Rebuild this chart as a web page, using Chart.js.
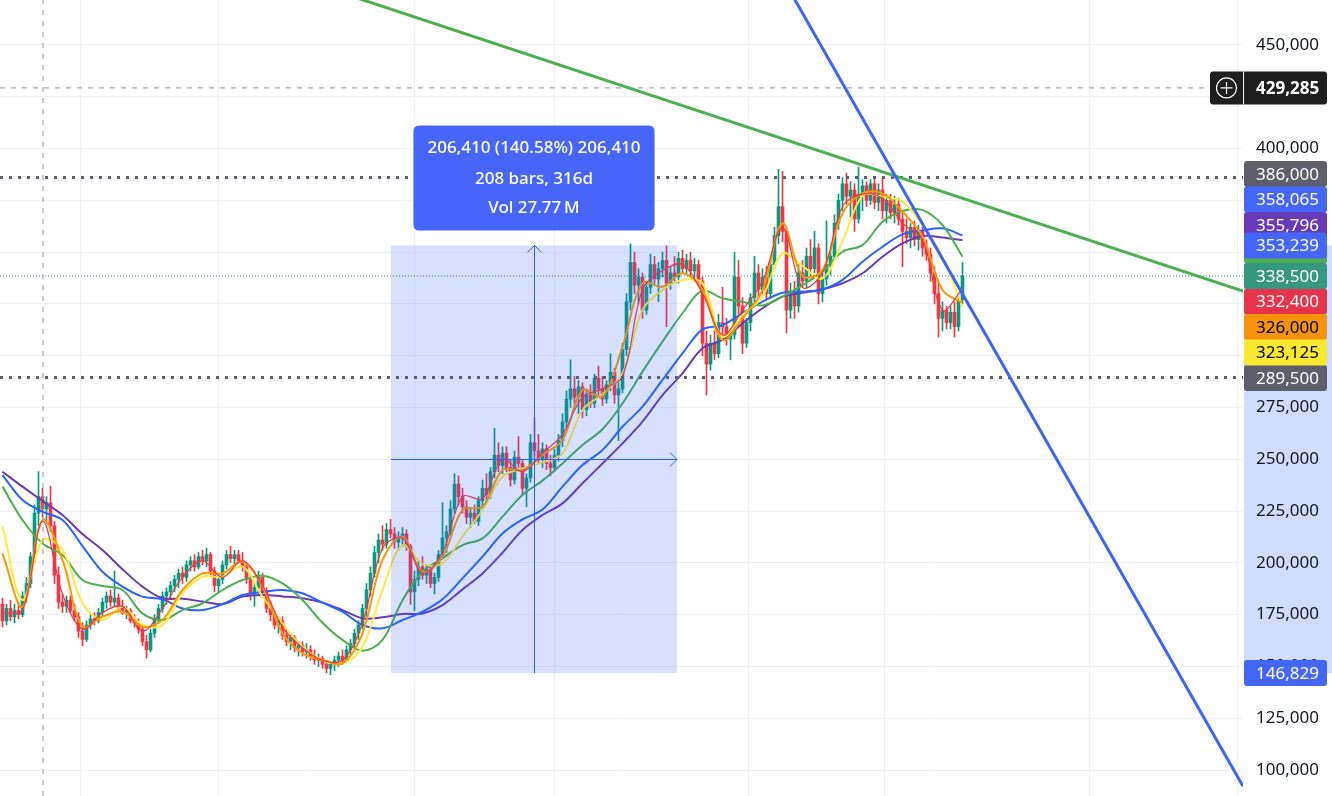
<!DOCTYPE html>
<html>
<head>
<meta charset="utf-8">
<title>Chart</title>
<script src="https://cdn.jsdelivr.net/npm/chart.js@4.4.1/dist/chart.umd.min.js"></script>
<style>
html,body{margin:0;padding:0;background:#ffffff;overflow:hidden;}
canvas{display:block;}
</style>
</head>
<body>
<canvas id="chart" width="1332" height="796" style="width:1332px;height:796px"></canvas>
<script>
// ---------------- DATA (prices in thousands) ----------------
const open = [
180,172,178,174,177,175,184,190,203,224,
232,226,229,218,194,181,179,182,177,174,
167,163,170,173,172,176,181,184,181,183,
179,176,177,172,171,168,162,158,166,173,
178,184,186,189,192,195,193,199,201,198,
203,201,204,196,189,192,199,204,202,204,
201,198,192,185,188,193,186,178,175,170,
172,165,162,164,159,160,157,158,155,153,
154,151,149,151,153,155,153,158,161,166,
170,178,187,195,205,211,209,216,214,210,
212,214,208,186,192,198,194,197,190,193,
204,212,215,226,238,232,227,222,224,220,
230,236,233,244,252,247,253,246,240,251,
248,236,241,258,254,250,255,248,246,252,
259,268,279,284,280,285,274,281,277,289,
284,279,286,292,281,284,303,326,345,334,
338,322,333,344,337,342,346,335,340,338,
347,342,346,341,344,336,306,296,306,301,
316,314,308,310,338,324,306,316,328,340,
332,338,330,344,358,372,360,322,331,324,
340,336,348,342,352,330,337,344,348,364,
375,383,377,380,366,378,382,375,383,374,
380,370,375,369,373,366,360,357,362,356,
360,352,349,340,330,318,322,316,321,314,
327];
const high = [
183,180,182,180,181,186,193,205,228,244,
236,232,237,220,198,185,184,184,180,176,
171,172,175,176,178,183,186,187,196,185,
182,179,178,175,173,170,165,168,175,180,
186,188,191,194,197,198,201,203,204,205,
206,207,205,198,194,201,206,208,206,206,
205,200,194,190,196,195,188,181,177,174,
174,168,166,165,162,162,161,160,158,156,
155,153,152,155,157,158,160,163,168,172,
180,190,198,208,214,218,219,221,217,215,
217,216,209,196,201,203,199,198,195,206,
229,218,230,243,242,236,230,226,228,232,
240,243,246,265,258,256,256,250,254,261,
250,243,262,270,262,258,257,252,255,262,
272,283,298,290,288,287,284,286,291,295,
290,288,301,294,287,306,330,354,350,342,
340,336,349,348,345,350,353,343,348,350,
351,349,350,347,346,338,312,310,312,320,
333,318,312,350,346,328,318,330,348,344,
342,343,346,362,390,389,362,335,336,344,
346,352,356,360,354,340,365,351,368,378,
386,388,384,383,391,385,384,385,386,383,
386,378,378,377,376,370,366,364,365,363,
362,356,352,343,335,326,324,324,326,330,
345];
const low = [
169,170,172,171,173,174,181,188,200,218,
222,219,215,190,178,176,176,176,172,164,
160,162,168,170,171,174,178,179,179,177,
175,173,171,169,166,160,154,157,164,171,
176,180,183,186,188,190,191,196,196,197,
199,198,194,186,186,190,197,200,199,200,
196,190,182,179,185,184,176,172,168,166,
163,160,158,157,155,155,154,153,151,150,
149,147,146,148,150,151,152,155,159,163,
168,174,184,193,200,206,207,212,207,206,
208,206,180,177,189,192,190,188,185,191,
202,205,213,224,228,224,219,217,219,218,
227,230,231,241,244,243,244,237,238,246,
233,227,239,250,248,246,245,242,244,249,
256,264,275,276,272,270,271,275,275,281,
276,277,283,277,259,282,300,322,330,325,
318,320,330,334,326,338,314,332,336,335,
340,339,338,336,334,300,281,293,298,299,
310,305,298,308,320,301,304,312,325,328,
330,327,328,342,354,355,311,318,318,321,
333,333,338,340,325,326,334,339,346,361,
370,373,367,360,364,370,372,373,371,370,
366,364,366,364,363,343,354,352,353,351,
348,346,336,325,309,312,313,313,309,312,
325];
const close = [
172,178,174,177,175,184,190,203,224,232,
226,229,218,194,181,179,182,177,174,167,
163,170,173,172,176,181,184,181,183,179,
176,177,172,171,168,162,158,166,173,178,
184,186,189,192,195,193,199,201,198,203,
201,204,196,189,192,199,204,202,204,201,
198,192,185,188,193,186,178,175,170,172,
165,162,164,159,160,157,158,155,153,154,
151,149,151,153,155,153,158,161,166,170,
178,187,195,205,211,209,216,214,210,212,
214,208,186,192,198,194,197,190,193,204,
212,215,226,238,232,227,222,224,220,230,
236,233,244,252,247,253,246,240,251,248,
236,241,258,254,250,255,248,246,252,259,
268,279,284,280,285,274,281,277,289,284,
279,286,292,281,284,303,326,345,334,338,
322,333,344,337,342,346,335,340,338,347,
342,346,341,344,336,306,296,306,301,316,
314,308,310,338,324,306,316,328,340,332,
338,330,344,358,372,360,322,331,324,340,
336,348,342,352,330,337,344,348,364,375,
383,377,380,366,378,382,375,383,374,380,
370,375,369,373,366,360,357,362,356,360,
352,349,340,330,318,322,316,321,314,327,
338.5];

// moving averages, one sample every 5 candles
const maRed = [176,177,220,185,168,176,179,167,178,193,201,193,201,189,169,159,153,153,171,207,212,195,205,232,231,250,244,253,262,280,284,290,332,341,344,330,310,322,336,362,333,340,372,378,376,364,356,322,332.4];
const maOrange = [204.6,178.8,220.7,201.4,169.2,174.0,176.4,169.2,172.4,186.9,194.9,194.9,200.6,188.5,166.0,156.3,153.1,151.5,166.0,201.4,212.6,195.7,203.0,225.5,227.1,244.8,244.8,252.1,259.3,283.4,280.2,304.4,335.0,333.3,339.8,331.7,307.6,318.0,331.7,363.9,338.5,341.4,368.7,378.4,378.4,369.5,357.5,331.7,325.5];
const maYellow = [217.5,182.1,211.0,206.2,180.5,172.4,178.8,170.0,170.0,185.3,193.3,193.3,198.2,183.7,170.8,159.5,153.1,151.5,159.5,186.9,208.6,199.5,199.8,212.6,225.5,241.6,245.6,248.5,252.9,273.8,281.5,291.5,322.1,331.7,336.5,334.9,309.2,319.6,328.5,349.4,343.3,337.3,355.1,377.3,376.8,374.4,363.1,347.8,323.6];
const maGreen = [236.8,220.7,209.4,203.8,191.7,188.8,186.9,175.6,172.4,177.2,180.5,186.9,191.7,193.8,190.1,182.1,171.1,162.8,157.6,162.8,182.0,195.7,202.2,208.6,211.8,222.3,232.8,239.7,248.0,256.9,264.5,277.0,292.3,306.8,320.5,331.4,327.7,326.1,324.3,328.5,334.1,340.6,350.2,353.4,364.7,369.9,370.3,363.1,347.8];
const maBlue = [242.4,230.3,224.7,220.7,208.1,195.7,188.5,183.7,182.4,178.0,177.2,180.0,184.5,185.9,186.9,185.3,180.8,176.4,170.0,168.4,172.4,176.4,182.4,192.5,203.0,214.2,221.0,225.8,236.8,247.2,254.5,265.7,275.4,288.3,301.1,312.7,314.8,320.5,326.1,330.4,330.9,332.0,336.6,345.4,352.6,358.6,360.4,361.5,358.1];
const maPurple = [244.0,236.8,229.9,223.1,213.9,206.2,196.9,188.5,182.9,182.7,181.3,180.1,183.7,184.5,183.8,182.9,180.8,177.2,173.2,173.7,175.3,175.6,179.6,187.2,194.9,204.9,215.9,223.1,228.7,238.4,248.0,257.7,268.2,281.0,291.5,303.6,307.6,315.6,322.9,328.5,330.4,332.1,335.0,339.8,347.8,354.2,357.8,357.1,355.8];
const maStep = 5;

// right-axis tags (full prices)
const maLast = [332400, 326000, 323125, 347800, 358065, 355796];
const lastPrice = 338500;
const levels = [386000, 289500];
const crossPrice = 429285;
const crossBar = 10.75;

// measure tool
const measureLo = 146829, measureHi = 353239;
const measureFrom = 97.75, measureTo = 169.25;
const measureBars = 208, measureDays = 316, measureVol = '27.77\u2009M';

// trend lines [bar, price(k)]
const trendGreen = [[60, 491.4], [310.75, 331.2]];
const trendBlue = [[190, 501.4], [310.75, 92.1]];

// time-scale grid positions (bars)
const timeGrid = [20, 54.5, 103.5, 138.5, 187, 221, 272.25, 309.25];

// ---------------- STYLE ----------------
const FONT = '"Noto Sans", "Open Sans", "DejaVu Sans", sans-serif';
const UP = '#089981', DOWN = '#f23645';
const GRID = '#f0f1f4';
const Y_MIN = 87.45, Y_MAX = 471.72, X_MAX = 310.75;
const fmt = v => Math.round(v).toLocaleString('en-US');

const xs = close.map((_, i) => i + 0.625);
const candleCol = close.map((c, i) => c >= open[i] ? UP : DOWN);
const maX = maRed.map((_, i) => i * maStep + 0.625);
const maPts = arr => arr.map((v, i) => ({x: maX[i], y: v}));
const hLine = v => [{x: 0, y: v}, {x: X_MAX, y: v}];

function maSet(arr, color, w, order) {
  return {type: 'line', data: maPts(arr), borderColor: color, borderWidth: w,
    pointRadius: 0, tension: 0.35, fill: false, order: order};
}
function flatSet(pts, color, w, dash, order) {
  return {type: 'line', data: pts, borderColor: color, borderWidth: w, borderDash: dash,
    borderCapStyle: 'butt', pointRadius: 0, tension: 0, fill: false, order: order, clip: 0};
}

function roundRect(ctx, x, y, w, h, r) {
  ctx.beginPath();
  ctx.moveTo(x + r, y);
  ctx.lineTo(x + w - r, y);
  ctx.quadraticCurveTo(x + w, y, x + w, y + r);
  ctx.lineTo(x + w, y + h - r);
  ctx.quadraticCurveTo(x + w, y + h, x + w - r, y + h);
  ctx.lineTo(x + r, y + h);
  ctx.quadraticCurveTo(x, y + h, x, y + h - r);
  ctx.lineTo(x, y + r);
  ctx.quadraticCurveTo(x, y, x + r, y);
  ctx.closePath();
}

// tags keep the last-price tag at its own level and push the others outward from it
function stackFrom(anchor, items, step) {
  anchor.cy = anchor.y;
  const above = items.filter(it => it.y <= anchor.y).sort((a, b) => b.y - a.y);
  const below = items.filter(it => it.y > anchor.y).sort((a, b) => a.y - b.y);
  let prev = anchor.cy;
  above.forEach(it => { it.cy = Math.min(it.y, prev - step); prev = it.cy; });
  prev = anchor.cy;
  below.forEach(it => { it.cy = Math.max(it.y, prev + step); prev = it.cy; });
}

function tag(ctx, yScale, cy, text, bg, fg, h) {
  const L = yScale.left + 1, R = yScale.right - 5;
  ctx.fillStyle = bg;
  roundRect(ctx, L, cy - h / 2, R - L, h, 3);
  ctx.fill();
  ctx.fillStyle = fg;
  ctx.font = '17px ' + FONT;
  ctx.textAlign = 'left';
  ctx.textBaseline = 'middle';
  ctx.fillText(text, yScale.left + 13, cy + 1);
}

const overlay = {
  id: 'overlay',
  beforeDraw(chart) {
    const {ctx} = chart, y = chart.scales.y;
    const t = y.getPixelForValue(measureHi / 1000), b = y.getPixelForValue(measureLo / 1000);
    ctx.save();
    ctx.fillStyle = 'rgba(41,98,255,0.22)';
    ctx.fillRect(y.left + 1, t, y.right - y.left, b - t);
    ctx.restore();
  },
  afterDatasetsDraw(chart) {
    const {ctx} = chart, x = chart.scales.x, y = chart.scales.y;
    const x0 = x.getPixelForValue(measureFrom), x1 = x.getPixelForValue(measureTo);
    const yt = y.getPixelForValue(measureHi / 1000), yb = y.getPixelForValue(measureLo / 1000);
    ctx.save();
    ctx.fillStyle = 'rgba(41,98,255,0.19)';
    ctx.fillRect(x0, yt, x1 - x0, yb - yt);
    const xm = Math.round((x0 + x1) / 2) + 0.5, ym = Math.round((yt + yb) / 2) + 0.5;
    ctx.strokeStyle = '#2962ff';
    ctx.lineWidth = 1;
    ctx.beginPath();
    ctx.moveTo(xm, yb); ctx.lineTo(xm, yt);
    ctx.moveTo(xm - 7, yt + 7); ctx.lineTo(xm, yt); ctx.lineTo(xm + 7, yt + 7);
    ctx.moveTo(x0, ym); ctx.lineTo(x1, ym);
    ctx.moveTo(x1 - 7, ym - 7); ctx.lineTo(x1, ym); ctx.lineTo(x1 - 7, ym + 7);
    ctx.stroke();
    // info label
    const diff = measureHi - measureLo;
    const pct = (diff / measureLo * 100).toFixed(2);
    const lines = [fmt(diff) + ' (' + pct + '%) ' + fmt(diff), measureBars + ' bars, ' + measureDays + 'd', 'Vol ' + measureVol];
    ctx.font = '500 17px ' + FONT;
    const w = Math.max(...lines.map(s => ctx.measureText(s).width)) + 28;
    const h = 105, cx = (x0 + x1) / 2, top = yt - 15 - h;
    ctx.fillStyle = '#4766f9';
    roundRect(ctx, cx - w / 2, top, w, h, 6);
    ctx.fill();
    ctx.fillStyle = '#ffffff';
    ctx.textAlign = 'center';
    ctx.textBaseline = 'middle';
    [23, 53.5, 83].forEach((dy, i) => ctx.fillText(lines[i], cx, top + dy));
    ctx.restore();
  },
  afterDraw(chart) {
    const {ctx} = chart, y = chart.scales.y;
    ctx.save();
    const H = 26;
    const anchor = {v: lastPrice, bg: '#35987e', fg: '#ffffff'};
    const items = [
      {v: levels[0], bg: '#5d606b', fg: '#ffffff'},
      {v: levels[1], bg: '#5d606b', fg: '#ffffff'},
      {v: maLast[0], bg: '#e8344a', fg: '#ffffff'},
      {v: maLast[1], bg: '#f7930a', fg: '#000000'},
      {v: maLast[2], bg: '#fbe830', fg: '#000000'},
      {v: maLast[3], bg: '#4caf50', fg: '#ffffff'},
      {v: maLast[4], bg: '#4466fa', fg: '#ffffff'},
      {v: maLast[5], bg: '#673ab7', fg: '#ffffff'}
    ];
    [anchor].concat(items).forEach(it => { it.y = y.getPixelForValue(it.v / 1000); });
    stackFrom(anchor, items, 25.5);
    items.concat([anchor]).forEach(it => tag(ctx, y, it.cy, fmt(it.v), it.bg, it.fg, H));
    [measureHi, measureLo].forEach(v => tag(ctx, y, y.getPixelForValue(v / 1000), fmt(v), '#4466fa', '#ffffff', H));
    // crosshair price tag
    const cy = y.getPixelForValue(crossPrice / 1000);
    const bx = y.left - 33, bw = y.right - 5 - bx, bh = 33;
    ctx.fillStyle = '#1e1e1e';
    roundRect(ctx, bx, cy - bh / 2, bw, bh, 3);
    ctx.fill();
    ctx.strokeStyle = '#ffffff';
    ctx.lineWidth = 1;
    ctx.beginPath();
    ctx.moveTo(y.left + 0.5, cy - bh / 2); ctx.lineTo(y.left + 0.5, cy + bh / 2);
    ctx.stroke();
    const icx = bx + 16.5;
    ctx.lineWidth = 1.2;
    ctx.beginPath(); ctx.arc(icx, cy, 10, 0, Math.PI * 2); ctx.stroke();
    ctx.beginPath();
    ctx.moveTo(icx - 6, cy); ctx.lineTo(icx + 6, cy);
    ctx.moveTo(icx, cy - 6); ctx.lineTo(icx, cy + 6);
    ctx.stroke();
    ctx.fillStyle = '#ffffff';
    ctx.font = 'bold 17px ' + FONT;
    ctx.textAlign = 'left';
    ctx.textBaseline = 'middle';
    ctx.fillText(fmt(crossPrice), y.left + 13, cy + 1);
    ctx.restore();
  }
};

const datasets = [
  {type: 'bar', data: xs.map((x, i) => ({x: x, y: [low[i], high[i]]})), backgroundColor: candleCol,
    barThickness: 1, grouped: false, borderWidth: 0, order: 30},
  {type: 'bar', data: xs.map((x, i) => ({x: x, y: [open[i], close[i]]})), backgroundColor: candleCol,
    barThickness: 3, grouped: false, borderWidth: 0, order: 29},
  maSet(maPurple, '#673ab7', 2, 20),
  maSet(maBlue, '#2962ff', 2, 19),
  maSet(maGreen, '#4caf50', 2, 18),
  maSet(maYellow, '#ffeb3b', 2, 17),
  maSet(maOrange, '#ff9800', 2, 16),
  maSet(maRed, '#f23645', 1.2, 15),
  flatSet(hLine(lastPrice / 1000), '#089981', 1, [1, 2], 10),
  flatSet(hLine(levels[0] / 1000), '#5d606b', 3, [3, 6], 9),
  flatSet(hLine(levels[1] / 1000), '#5d606b', 3, [3, 6], 9),
  flatSet(hLine(crossPrice / 1000), '#9598a1', 1, [5, 6], 8),
  flatSet([{x: crossBar, y: Y_MIN}, {x: crossBar, y: Y_MAX}], '#9598a1', 1, [5, 6], 8),
  flatSet(trendGreen.map(p => ({x: p[0], y: p[1]})), '#4caf50', 3, [], 2),
  flatSet(trendBlue.map(p => ({x: p[0], y: p[1]})), '#3d63f8', 3, [], 1)
];

new Chart(document.getElementById('chart'), {
  type: 'bar',
  data: {datasets: datasets},
  options: {
    responsive: false,
    devicePixelRatio: 1,
    animation: false,
    events: [],
    layout: {padding: 0},
    plugins: {legend: {display: false}, tooltip: {enabled: false}, title: {display: false}},
    scales: {
      x: {
        type: 'linear', min: 0, max: X_MAX, offset: false, position: 'bottom',
        afterBuildTicks: s => { s.ticks = timeGrid.map(v => ({value: v})); },
        afterFit: s => { s.height = 0; s.paddingLeft = 0; s.paddingRight = 0; },
        ticks: {display: false},
        grid: {color: GRID, drawTicks: false, offset: false},
        border: {display: false}
      },
      y: {
        type: 'linear', position: 'right', min: Y_MIN, max: Y_MAX,
        afterFit: s => { s.width = 89; s.paddingTop = 0; s.paddingBottom = 0; },
        ticks: {stepSize: 25, includeBounds: false, padding: 13, color: '#131722',
          font: {family: FONT, size: 17}, callback: v => fmt(v * 1000)},
        grid: {color: GRID, drawTicks: false},
        border: {display: false}
      }
    }
  },
  plugins: [overlay]
});
</script>
</body>
</html>
